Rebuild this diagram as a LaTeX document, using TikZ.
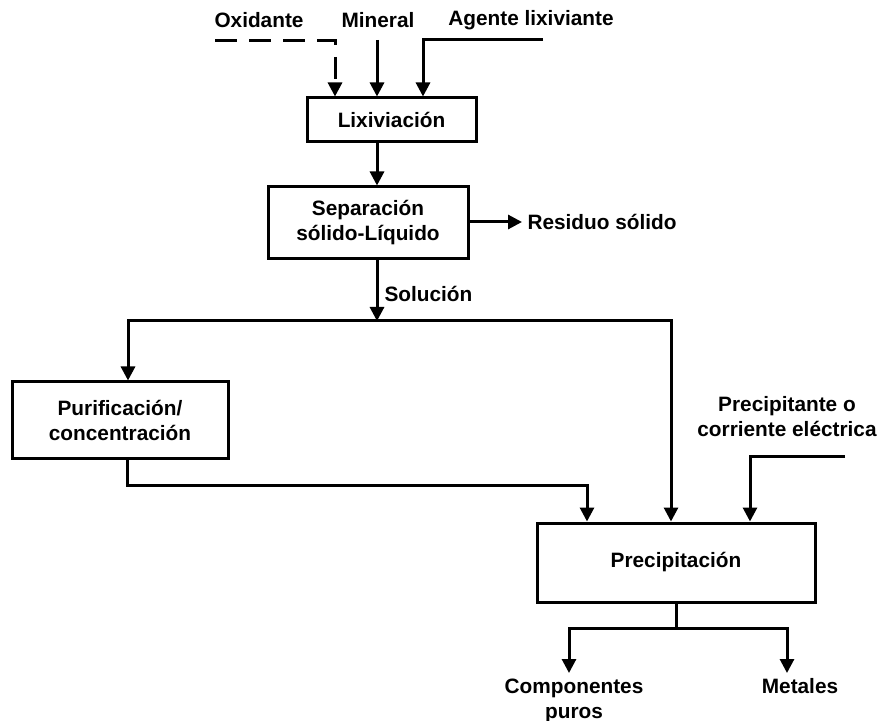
\documentclass[tikz,border=0pt]{standalone}
\usepackage{fontspec}
\setmainfont{Liberation Sans}
\usepackage{tikz}
\usetikzlibrary{arrows.meta,calc}

\begin{document}
\begin{tikzpicture}[x=0.5pt,y=-0.5pt,font=\fontsize{10.4}{12.5}\selectfont\bfseries,
  line width=1.5pt,>={Triangle[width=7pt,length=7pt]},
  flow/.style={->},
  procbox/.style={draw,line width=1.5pt,align=center,inner sep=2pt},
  lbl/.style={align=center,inner sep=2pt}]
\useasboundingbox (0,0) rectangle (883,721);
% boxes
\node[procbox,minimum width=84.5pt,minimum height=22pt] (lix) at (391.5,120) {Lixiviación};
\node[procbox,minimum width=100pt,minimum height=36pt] (sep) at (368,223) {Separación\\sólido-Líquido};
\node[procbox,minimum width=108pt,minimum height=38pt] (pur) at (120,420) {Purificación/\\concentración};
\node[procbox,minimum width=139pt,minimum height=39.5pt] (pre) at (676,562.5) {Precipitación};
% inputs and outputs
\node[lbl] (oxi) at (259,20) {Oxidante};
\node[lbl] (min) at (378,20) {Mineral};
\node[lbl] (agt) at (531,20) {Agente lixiviante};
\node[lbl,anchor=west] (res) at (522,222) {Residuo sólido};
\node[lbl] (prc) at (787,417) {Precipitante o\\corriente eléctrica};
\node[lbl,anchor=north] (comp) at (574,673) {Componentes\\puros};
\node[lbl,anchor=north] (met) at (800,673) {Metales};
\coordinate (oxi0) at (215,41);
\coordinate (min0) at (377,40);
\coordinate (agt0) at (543,40);
\coordinate (split) at (377,321);
\coordinate (prc0) at (845,456);
\coordinate (fork) at (676,628);
% connectors
\draw[flow,dashed,dash pattern=on 11pt off 6pt] (oxi0) -| ([xshift=-28.25pt]lix.north);
\draw[flow] (min0) -- (min0 |- lix.north);
\draw[flow] (agt0) -| ([xshift=15.75pt]lix.north);
\draw[flow] (min0 |- lix.south) -- (min0 |- sep.north);
\draw[flow] (sep.east |- res.west) -- (res.west);
\draw[flow] (min0 |- sep.south) -- (split) node[pos=0.55,anchor=west,inner sep=3pt] {Solución};
\draw[flow] (split) -| ([xshift=4pt]pur.north);
\draw[flow] (split) -| ([xshift=-2.5pt]pre.north);
\draw[flow] ([xshift=3.5pt]pur.south) -- ++(0,26) -| ([xshift=-44.5pt]pre.north);
\draw[flow] (prc0) -| ([xshift=37pt]pre.north);
\draw (pre.south) -- (fork);
\draw[flow] (fork) -| ([xshift=-2.5pt]comp.north);
\draw[flow] (fork) -| ([xshift=-6.5pt]met.north);
\end{tikzpicture}
\end{document}
